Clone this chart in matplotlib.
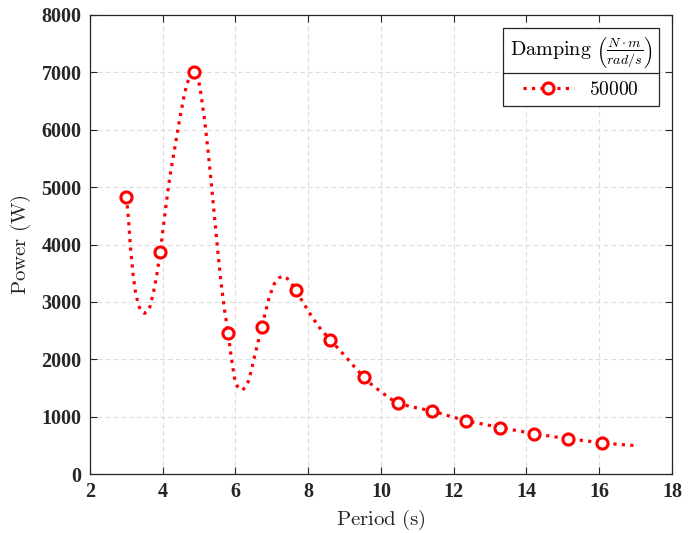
import matplotlib
matplotlib.use("Agg")
import matplotlib.pyplot as plt
from matplotlib.lines import Line2D

plt.rcParams['mathtext.fontset'] = 'cm'

# data points (markers)
period = [3.0, 3.93, 4.87, 5.8, 6.73, 7.67, 8.6, 9.53, 10.47, 11.4,
          12.33, 13.27, 14.2, 15.13, 16.07, 17.0]
power = [4830, 3875, 7010, 2455, 2570, 3210, 2340, 1690, 1240, 1100,
         930, 810, 705, 615, 545, 495]

# fine curve
line_period = [3.00, 3.06, 3.11, 3.18, 3.24, 3.33, 3.42, 3.50, 3.58, 3.65,
               3.77, 3.85, 3.93, 4.02, 4.11, 4.20, 4.34, 4.47, 4.57, 4.66,
               4.76, 4.87, 4.95, 5.02, 5.15, 5.24, 5.33, 5.42, 5.51, 5.60,
               5.70, 5.80, 5.88, 5.97, 6.05, 6.12, 6.19, 6.27, 6.35, 6.43,
               6.52, 6.62, 6.73, 6.83, 6.93, 7.07, 7.20, 7.31, 7.42, 7.52,
               7.67, 7.80, 7.93, 8.04, 8.17, 8.29, 8.45, 8.60, 8.85, 9.11,
               9.32, 9.53, 9.77, 10.00, 10.23, 10.47, 10.75, 11.00, 11.40, 11.85,
               12.33, 12.80, 13.27, 13.75, 14.20, 14.65, 15.13, 15.60, 16.07, 16.55,
               17.00]
line_power = [4830, 4430, 3965, 3500, 3210, 2940, 2830, 2800, 2830, 2920,
              3240, 3520, 3875, 4330, 4780, 5200, 5720, 6200, 6540, 6790,
              6950, 7010, 6930, 6755, 6175, 5660, 5100, 4500, 3900, 3350,
              2850, 2455, 2045, 1680, 1530, 1475, 1465, 1510, 1610, 1790,
              2040, 2300, 2570, 2840, 3090, 3320, 3420, 3450, 3410, 3330,
              3210, 3050, 2915, 2800, 2680, 2566, 2450, 2340, 2170, 1985,
              1830, 1690, 1540, 1435, 1320, 1240, 1185, 1150, 1100, 1015,
              930, 870, 810, 755, 705, 660, 615, 580, 545, 515,
              495]

xticks = [2, 4, 6, 8, 10, 12, 14, 16, 18]
yticks = [0, 1000, 2000, 3000, 4000, 5000, 6000, 7000, 8000]

fig = plt.figure(figsize=(6.99, 5.33), dpi=100)
ax = fig.add_axes([90/699, 1-474/533, 582/699, 459/533])

ax.plot(line_period, line_power, ':', color='red', linewidth=2.3)
ax.plot(period[:-1], power[:-1], 'o', color='red', markerfacecolor='white',
        markersize=8, markeredgewidth=2.2, linestyle='none')
handle = Line2D([], [], linestyle=':', color='red', linewidth=2.3, marker='o',
                markerfacecolor='white', markersize=8, markeredgewidth=2.2)

ax.set_xlim(2, 18)
ax.set_ylim(0, 8000)
ax.set_xticks(xticks)
ax.set_yticks(yticks)
ax.set_xticklabels([str(t) for t in xticks])
ax.set_yticklabels([str(t) for t in yticks])
for lab in ax.get_xticklabels() + ax.get_yticklabels():
    lab.set_fontfamily('Liberation Serif')
    lab.set_fontweight('bold')
    lab.set_fontsize(14.5)
    lab.set_color('#262626')

ax.tick_params(direction='in', length=5, width=0.8, colors='#262626',
               top=True, right=True, pad=6)
ax.grid(True, linestyle=(0, (4, 3)), color='#dcdcdc', linewidth=0.8)
for s in ax.spines.values():
    s.set_color('#262626')
    s.set_linewidth(0.9)

ax.set_xlabel(r'$\mathrm{Period\ (s)}$', fontsize=15, color='#262626', labelpad=4)
ax.set_ylabel(r'$\mathrm{Power\ (W)}$', fontsize=15, color='#262626', labelpad=6)

leg = ax.legend([handle], [r'$\mathrm{50000}$'],
                title=r'$\mathrm{Damping}\ \left(\frac{N\cdot m}{rad/s}\right)$',
                loc='upper right', fontsize=14, title_fontsize=14.5,
                fancybox=False, framealpha=1, edgecolor='#262626',
                handlelength=2.6, borderaxespad=0.65, borderpad=0.35)
leg.get_frame().set_linewidth(0.9)

# separator line under legend title
fig.canvas.draw()
fr = leg.get_frame().get_window_extent()
tb = leg.get_title().get_window_extent()
inv = fig.transFigure.inverted()
(x0, y0) = inv.transform((fr.x0, tb.y0 - 3))
(x1, _) = inv.transform((fr.x1, tb.y0 - 3))
fig.add_artist(Line2D([x0, x1], [y0, y0], transform=fig.transFigure,
                      color='#262626', linewidth=0.9))

fig.savefig('out.png', dpi=100)
